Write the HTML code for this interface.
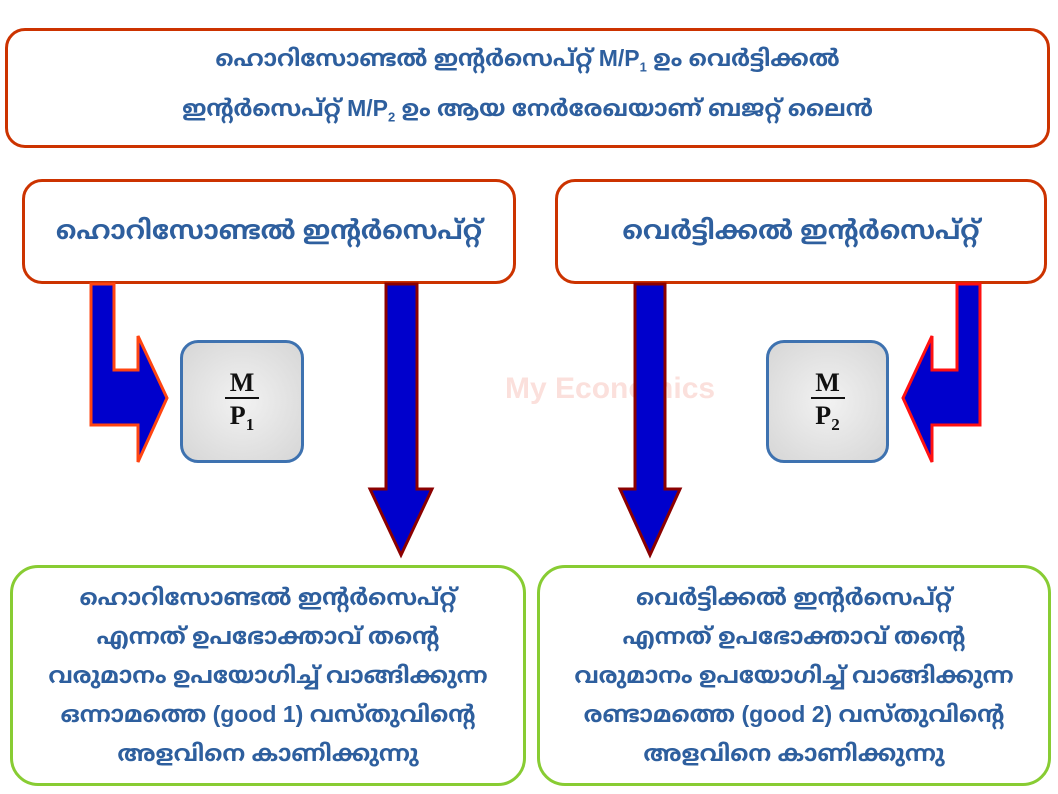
<!DOCTYPE html>
<html><head><meta charset="utf-8"><style>
body{margin:0;width:1058px;height:794px;background:#fff;position:relative;overflow:hidden;font-family:"Liberation Sans","Noto Sans Malayalam","DejaVu Sans",sans-serif;}
.b{position:absolute;box-sizing:border-box;background:#fff;color:#2e5f9e;font-weight:bold;text-align:center;display:flex;align-items:center;justify-content:center;}
.r{border:3px solid #cc3300;border-radius:20px;}
.g{border:3px solid #88cc33;border-radius:28px;font-size:23px;line-height:39px;}
.mp{position:absolute;box-sizing:border-box;border:3px solid #3e72b0;border-radius:18px;background:radial-gradient(circle,#f2f2f2,#d6d6d6);font-family:"Liberation Serif",serif;font-weight:bold;color:#111;text-align:center;font-size:26px;}
.mp .n{margin:26px auto 0;width:34px;border-bottom:2px solid #111;line-height:28px;}
.mp .d{line-height:34px;}
.mp sub{font-size:17px;}
</style></head><body>
<div class="b r" style="left:5px;top:28px;width:1045px;height:120px;font-size:23px;line-height:40px;"><div>ഹൊറിസോണ്ടൽ ഇന്റർസെപ്റ്റ് M/P<sub style="font-size:13px">1</sub> ഉം വെർട്ടിക്കൽ<br>ഇന്റർസെപ്റ്റ് M/P<sub style="font-size:13px">2</sub> ഉം ആയ നേർരേഖയാണ് ബജറ്റ് ലൈൻ</div></div>
<div class="b r" style="left:22px;top:179px;width:494px;height:105px;font-size:26px;"><div>ഹൊറിസോണ്ടൽ ഇന്റർസെപ്റ്റ്</div></div>
<div class="b r" style="left:555px;top:179px;width:492px;height:105px;font-size:26px;"><div>വെർട്ടിക്കൽ ഇന്റർസെപ്റ്റ്</div></div>
<div class="mp" style="left:180px;top:340px;width:124px;height:123px;"><div class="n">M</div><div class="d">P<sub>1</sub></div></div>
<div class="mp" style="left:766px;top:340px;width:123px;height:123px;"><div class="n">M</div><div class="d">P<sub>2</sub></div></div>
<div style="position:absolute;left:505px;top:372px;font:bold 30px 'Liberation Sans',sans-serif;color:#fbe0dc;">My Economics</div>
<svg width="1058" height="794" style="position:absolute;left:0;top:0">
<polygon points="91,284 114,284 114,370 138,370 138,336 167,398 138,462 138,425 91,425" fill="#0000cc" stroke="#ff4411" stroke-width="3"/>
<polygon points="980,284 957,284 957,370 932,370 932,336 903,398 932,462 932,425 980,425" fill="#0000cc" stroke="#ff1111" stroke-width="3"/>
<polygon points="386,284 417,284 417,489 432,489 401,555 370,489 386,489" fill="#0000cc" stroke="#8b0000" stroke-width="3"/>
<polygon points="635,284 665,284 665,489 680,489 650,555 620,489 635,489" fill="#0000cc" stroke="#8b0000" stroke-width="3"/>
</svg>
<div class="b g" style="left:10px;top:565px;width:516px;height:221px;"><div>ഹൊറിസോണ്ടൽ ഇന്റർസെപ്റ്റ്<br>എന്നത് ഉപഭോക്താവ് തന്റെ<br>വരുമാനം ഉപയോഗിച്ച് വാങ്ങിക്കുന്ന<br>ഒന്നാമത്തെ (good 1) വസ്തുവിന്റെ<br>അളവിനെ കാണിക്കുന്നു</div></div>
<div class="b g" style="left:537px;top:565px;width:514px;height:221px;"><div>വെർട്ടിക്കൽ ഇന്റർസെപ്റ്റ്<br>എന്നത് ഉപഭോക്താവ് തന്റെ<br>വരുമാനം ഉപയോഗിച്ച് വാങ്ങിക്കുന്ന<br>രണ്ടാമത്തെ (good 2) വസ്തുവിന്റെ<br>അളവിനെ കാണിക്കുന്നു</div></div>
</body></html>
